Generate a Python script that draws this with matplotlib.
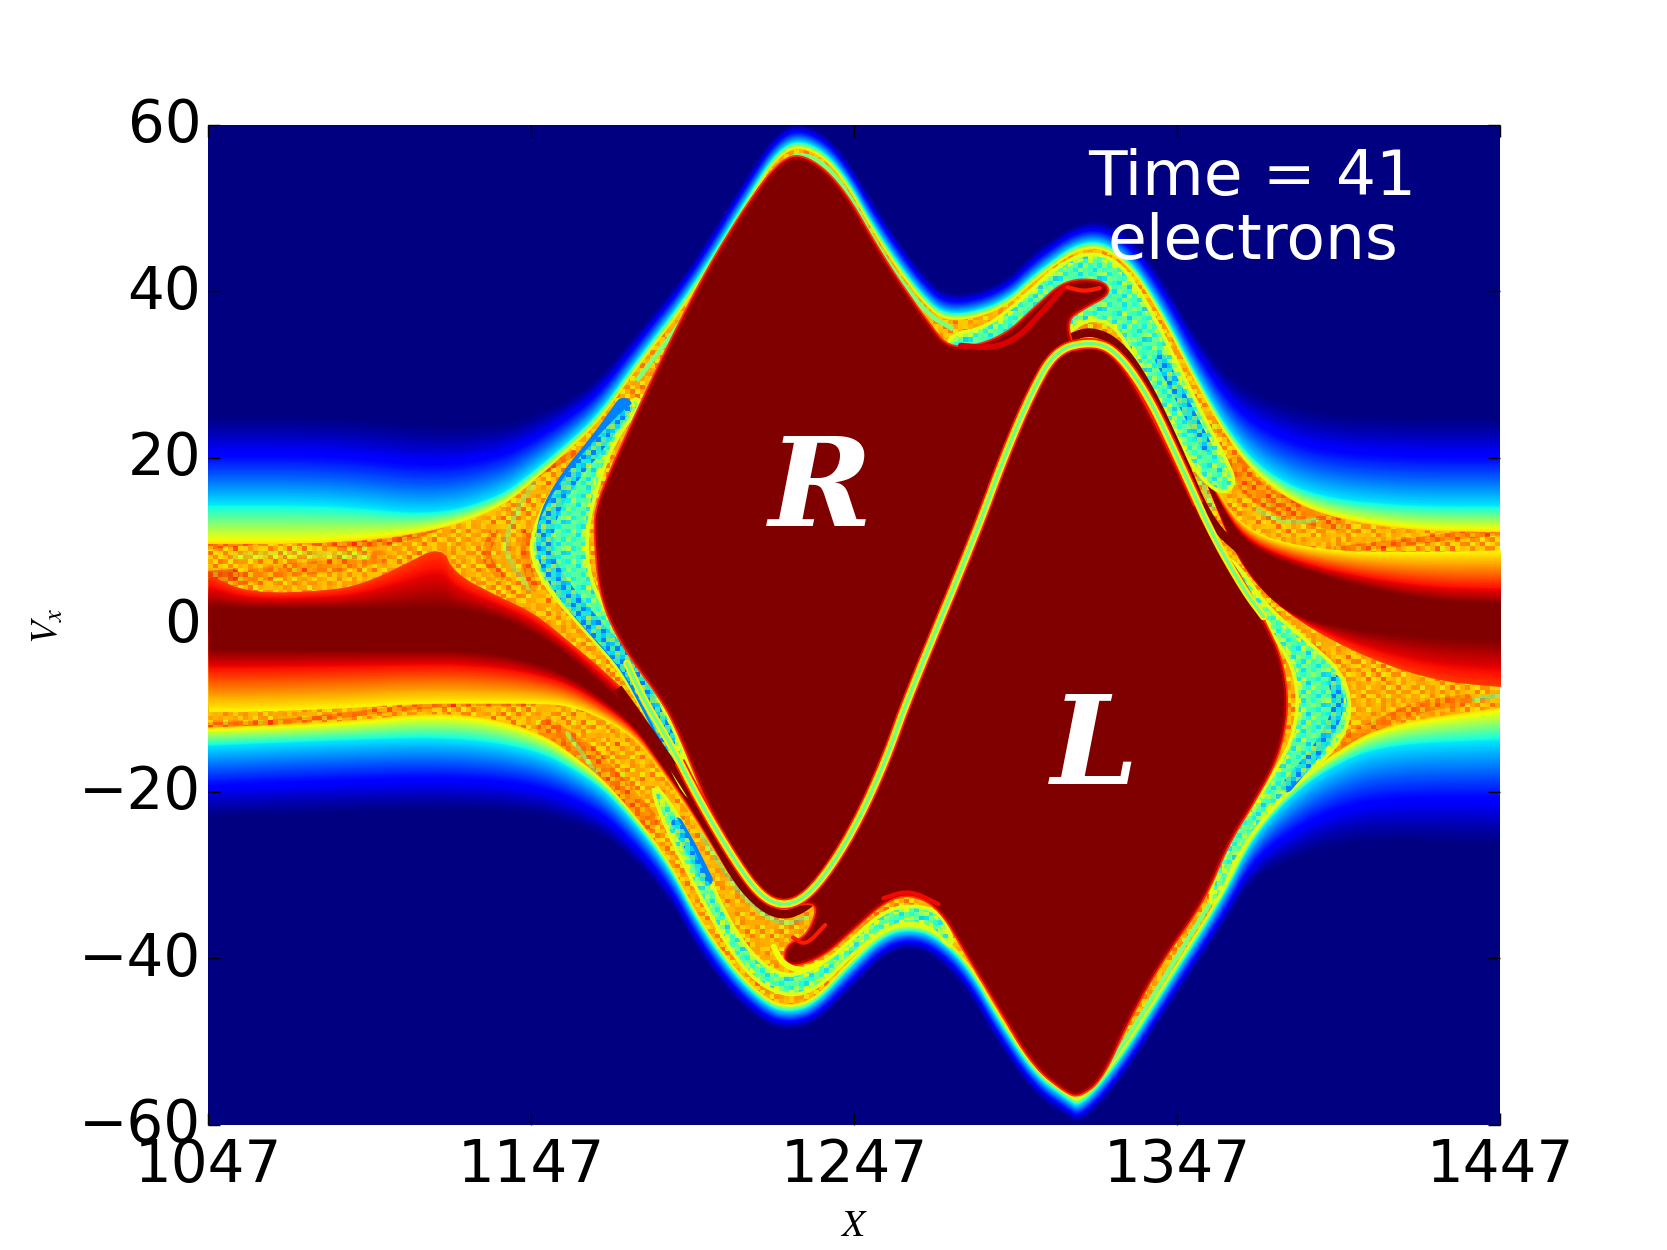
import numpy as np
import matplotlib
matplotlib.use("Agg")
import matplotlib.pyplot as plt
from matplotlib.patches import Polygon
from matplotlib.transforms import ScaledTranslation

# ---- outer edge of the trapped-particle structure, upper side ----
top_x = [1047, 1086, 1117, 1137, 1148, 1158, 1168, 1180, 1196, 1213, 1223, 1231, 1242, 1255, 1269, 1277,
         1293, 1304, 1319, 1331, 1342, 1353, 1364, 1375, 1391, 1418, 1447]
top_edge = [14.6, 14.6, 13.2, 15.4, 18.6, 21.8, 25.4, 32, 40, 50.8, 57, 58.4, 55.5, 46.5, 39, 37,
            38.6, 42.6, 46.6, 44.6, 38.2, 29.8, 22.6, 18.2, 15.4, 14.4, 14.4]
top_fade = [11, 11, 11, 9, 7, 5.5, 4.5, 3.5, 3, 3, 2.5, 2.2, 2.5, 3, 2.8, 2.5,
            2.5, 3, 2.5, 3, 4, 5, 7, 9.5, 10.5, 11, 11]
top_yellow = [4.8, 4.8, 2, 1.5, 1.2, 1, 1, 1, 1, .9, .8, .8, .8, .9, .9, .8,
              .8, .8, .8, .8, 1, 1, 1.2, 1.5, 2.2, 3, 3.2]

# ---- outer edge, lower side ----
bot_x = [1047, 1086, 1122, 1148, 1163, 1173, 1189, 1199, 1210, 1220, 1227, 1235, 1246, 1256, 1264, 1272,
         1282, 1292, 1303, 1313, 1317, 1329, 1345, 1361, 1370, 1382, 1395, 1411, 1447]
bot_edge = [-14.6, -14, -13.6, -15, -18, -21, -28.6, -36.2, -42.2, -45.8, -46.6, -45.6, -41, -37.4, -36.6, -37.4,
            -41, -47.8, -54.2, -57, -58, -52.6, -42.7, -33, -25.8, -20.6, -17, -14.5, -14]
bot_fade = [9, 9, 9, 8, 6.5, 5.5, 4, 3.5, 3, 2.5, 2.2, 2.5, 3, 2.5, 2.2, 2.5,
            3, 3, 2.5, 2.2, 2.2, 2.8, 3, 3.5, 5, 8, 10, 12, 13]
bot_yellow = [2.2, 2.2, 3.2, 2.5, 1.5, 1, .9, .9, .9, .8, .8, .8, .9, .9, .8, .8,
              .9, .9, .8, .8, .8, .9, 1, 1, 1, 1, 1.5, 2.5, 4]

# ---- untrapped core, left of the vortices ----
lcore_x = [1047, 1060, 1086, 1096, 1106, 1119, 1123, 1137, 1148, 1158, 1168, 1179, 1187, 1196, 1208]
lcore_top = [6, 3.8, 4.2, 5.2, 7, 9.6, 6.2, 3.4, 1.4, -1.8, -5, -9, -15, -20.6, -29]
lcore_dark_top = [2.2, 2, 2, 2, 2, 2, 2, 1, -1, -3.5, -7, -10.5, -15.5, -20.8, -29]
lcore_dark_bot = [-3, -3, -3, -3, -3, -3, -3, -3.5, -4.5, -6, -8.5, -12, -16.5, -21.5, -29.5]
lcore_bot = [-10.4, -10.4, -10, -9.8, -9.5, -9.4, -9.4, -9.4, -9.4, -9.6, -11, -13.5, -17.5, -22.5, -30]

# ---- untrapped core, right of the vortices ----
rcore_x = [1352, 1360, 1367.5, 1380, 1400, 1425, 1447]
rcore_top = [21, 15.5, 11.8, 9.8, 8.8, 8.8, 9]
rcore_dark_top = [21, 14.5, 10, 7.5, 5, 3, 2.6]
rcore_dark_bot = [21, 13.5, 7, 1.5, -0.5, -1.5, -1.8]
rcore_bot = [21, 13, 6.5, 1.6, -3, -6.6, -7.4]

# ---- saturated region covering both vortices ----
lobe_x = [1231, 1242.5, 1255.7, 1268.9, 1276.7, 1293, 1303.9, 1312.6, 1323.4, 1326, 1318, 1312, 1314.7, 1320,
          1326.7, 1336.5, 1348.5, 1358, 1366, 1374, 1379, 1381, 1378, 1370, 1362.3, 1355, 1341.3, 1331.4, 1323.2,
          1316.6, 1312.9, 1302.6, 1292.2, 1282, 1273.7, 1264.4, 1256.1, 1245.8, 1236.5, 1226, 1226, 1233, 1237,
          1225.2, 1218, 1209.7, 1201.4, 1193.2, 1188, 1175, 1168.5, 1167, 1167.5, 1171, 1177.7, 1187.6, 1200.8,
          1213.9, 1223.8]
lobe_v = [56.4, 52.8, 43.8, 36.4, 32.6, 34.2, 38.2, 41.2, 41.2, 39.8, 38.2, 36.6, 32.6, 33.4,
          32.6, 26.6, 17, 10, 6, 0, -4.2, -9.8, -15.8, -21.4, -26.2, -33, -40.5, -47.5, -54.5,
          -56.4, -56, -52.8, -46, -39.4, -33.8, -32, -33, -36.6, -39.8, -41, -38.5, -37.5, -33,
          -33.6, -31.8, -27.4, -21, -13, -9, -2.2, 3.6, 11.2, 14, 17.6, 23.4, 31.7, 41.9, 50.2, 55.4]

# ---- filament separating the two vortices ----
sep_x = [1176.6, 1181.8, 1190, 1198.3, 1209.7, 1218, 1225.2, 1232.4, 1240.6, 1248.9, 1257.2, 1263.3, 1284.3, 1293,
         1301.7, 1309.3, 1320, 1327.8, 1337.6, 1347.4, 1357, 1367.5, 1373.7]
sep_v = [-4.6, -9, -14.2, -20.6, -28.2, -32.6, -33.8, -32.6, -28.6, -23, -15.8, -9, 10.6, 19.8,
         27.8, 33, 34, 33, 27.8, 19.8, 11.4, 4.2, 1]

# ---- dark filaments running alongside the vortex tips ----
dark_up_x = [1312.6, 1320, 1329, 1337.6, 1347.4, 1357, 1367.5]
dark_up_v = [34.2, 35.4, 33.8, 29, 21, 12.2, 8.6]
dark_lo_x = [1174.6, 1189, 1199.4, 1209.7, 1218, 1225.2, 1232.4, 1235.5]
dark_lo_v = [-8, -15.8, -22.2, -30.2, -33.8, -35, -33.8, -32.2]

# ---- cyan bands wrapped around the vortices ----
band_ur_x = [1276.7, 1287.6, 1298.4, 1309.3, 1319.1, 1328.9, 1337.6, 1346.3, 1355, 1361.5, 1364.7, 1360.4, 1352.8,
             1344.1, 1334.3, 1327.8, 1320.2, 1313.7, 1306, 1276.7]
band_ur_v = [34.6, 35.4, 38.6, 42.6, 44.6, 43.4, 38.2, 31.4, 24.6, 19.8, 17, 15.8, 18.6,
             25, 32.2, 36.2, 37, 35.6, 32.6, 32.6]
band_ll_x = [1189, 1199.4, 1209.7, 1218, 1227.2, 1235.5, 1245.8, 1256.1, 1264.4, 1271.6, 1277.8, 1273.7, 1264.4,
             1256.1, 1245.8, 1238.6, 1227.2, 1218, 1209.7, 1202.5, 1194.2, 1183.9]
band_ll_v = [-24.2, -32.2, -39.4, -43, -44.4, -43.4, -39.4, -36.2, -35.4, -36.2, -39, -34.6, -33.8,
             -34.6, -38.2, -40.6, -42.6, -41, -37, -31.4, -24.2, -18.6]
band_l_x = [1178.7, 1166.3, 1153.9, 1147.7, 1147.7, 1152.9, 1163.2, 1173.5, 1180.7, 1186.9, 1195.2,
            1199.3, 1196.2, 1189, 1181.8, 1172.4, 1165.2, 1163.2, 1165.2, 1171.4, 1180.7]
band_l_v = [27, 22.2, 16.2, 11, 7.8, 4.2, -0.2, -4.6, -9, -13.8, -20.6,
            -20.6, -17.8, -11, -5.4, -0.2, 4.6, 9.4, 14.6, 21.8, 26.6]
band_r_x = [1365.4, 1374.7, 1387.1, 1397.4, 1400.5, 1397.4, 1388.1, 1379.9, 1372.7, 1365.4, 1359.2,
            1357.2, 1361.3, 1367.5, 1373.7, 1379.9, 1383, 1385, 1384, 1379.9, 1371.6, 1362.3]
band_r_v = [7, 1.8, -2.2, -5.8, -9.8, -13.8, -17.4, -20.2, -23.4, -27.4, -33,
            -33, -27.4, -23.4, -20.2, -16.2, -13.8, -9.8, -5.8, -2.6, 1.8, 7.8]

# ---- deeper blue streaks inside the bands ----
blue_l_x = [1175.6, 1168.3, 1158, 1151.8, 1150.8, 1154, 1161, 1168.3, 1176.6, 1182.8, 1189]
blue_l_v = [26.2, 22.2, 17.4, 13, 9, 5.8, 2.2, -1, -4.6, -9, -13.8]
blue_r_x = [1380.9, 1392.3, 1397.4, 1395.4]
blue_r_v = [-19.4, -14.2, -9.8, -6.6]
blue_ur_x = [1341.9, 1347.4, 1352.8, 1356]
blue_ur_v = [31.8, 27.8, 23.8, 21.4]
blue_ll_x = [1192.1, 1196.3, 1201.4]
blue_ll_v = [-23.8, -26.6, -30.6]

# ---- thin green filament just inside the outer edge, along the steep flanks ----
rim_top_x = [1180, 1196, 1213, 1223, 1231, 1242, 1255, 1269, 1277]
rim_top_v = [29.5, 37.6, 48.6, 55, 56.9, 54, 44.6, 37.4, 35.6]
rim_bot_x = [1282, 1292, 1303, 1313, 1317, 1329, 1345, 1357]
rim_bot_v = [-39.4, -46, -52.4, -55.8, -56.8, -51.2, -41, -33.5]

# ---- fine structure in the mixing layers: x, v, colour level, width ----
streaks = [
    ([1047, 1060, 1073.4, 1087.8, 1102.3, 1116.7, 1132.2, 1147.7, 1160],
     [9.4, 10, 10.2, 9.6, 9.8, 11.4, 14.2, 17.8, 20.6], 0.86, 2.2),
    ([1054.8, 1070.3, 1085.8, 1100.2], [5.4, 6.6, 7, 8.2], 0.8, 4.5),
    ([1054.8, 1075.5, 1096.1], [8.2, 8.6, 8.2], 0.58, 2.5),
    ([1047, 1054.8], [5.8, 6], 0.92, 4),
    ([1147.7, 1142.5, 1138.4, 1140.5, 1146.7], [17, 13.8, 9.8, 7.4, 4.2], 0.5, 2),
    ([1135.3, 1132.2, 1137.4], [11, 8.2, 5.8], 0.84, 3),
    ([1145.6, 1144.6, 1147.7], [11, 8.2, 4.6], 0.84, 3),
    ([1047, 1065.1, 1085.8, 1106.4, 1127, 1147.7], [-12, -11.8, -11, -10, -9.4, -9.4], 0.84, 1.8),
    ([1152, 1163, 1175, 1183], [-12.5, -15, -20, -23.5], 0.82, 7),
    ([1158, 1164, 1172], [-13, -16, -21], 0.45, 1.5),
    ([1365, 1372, 1385, 1396], [19, 15.5, 13.5, 12.5], 0.82, 7),
    ([1371.6, 1379.9, 1390.2], [13.8, 12.2, 12.6], 0.45, 1.5),
    ([1396.4, 1420, 1426.3, 1447], [9, 10, 10.4, 11.2], 0.84, 2.5),
    ([1438.7, 1447], [-9, -8.4], 0.38, 1.5),
    ([1390.2, 1405.7, 1421.2, 1436.6], [-15.8, -12.6, -9.8, -9], 0.82, 4),
    ([1199.4, 1211.7, 1224.1, 1232.4], [-25, -32.6, -36.2, -35], 0.42, 1.5),
    ([1313, 1320, 1329, 1338, 1348, 1358], [36, 37, 35.5, 31, 23, 14], 0.42, 1.5),
]

# ---- swirl and rough edges drawn over the saturated region ----
over_streaks = [
    ([1280, 1290, 1298, 1305, 1312], [33.5, 33.2, 34.5, 37.5, 40.5], 0.92, 2),
    ([1313, 1318, 1323], [40.5, 40, 40.4], 0.88, 1.5),
    ([1222, 1224.6, 1230.3, 1236.5], [-38.6, -40.6, -41.6, -40.6], 0.64, 2),
    ([1228, 1232, 1238], [-37.5, -38.5, -36], 0.88, 1.4),
    ([1256, 1264, 1273], [-32.8, -31.8, -33.5], 0.9, 1.5),
]

# ---- colour levels of the small-scale mottling; blank cells let lower layers show ----
mix_tile_a = [
    [.72, .62, .78, .68, .85, .64, .74, .80, .66, .76, .70],
    [.80, .70, .64, .82, .72, .76, .62, .70, .86, .68, .78],
    [.66, .84, .74, .60, .78, .68, .82, .64, .72, .80, .62],
    [.76, .62, .88, .70, .64, .84, .72, .78, .60, .70, .82],
    [.68, .78, .66, .76, .86, .62, .70, .84, .74, .64, .72],
    [.84, .70, .60, .82, .68, .74, .80, .62, .78, .88, .66],
    [.62, .76, .80, .66, .72, .90, .64, .70, .82, .60, .74],
    [.78, .64, .72, .86, .60, .70, .76, .88, .66, .72, .84],
    [.70, .82, .68, .62, .76, .80, .60, .74, .70, .84, .64],
]
mix_tile_b = [
    [.70, .80, .66, .64, .76, .84, .60],
    [.86, .62, .74, .80, .70, .68, .78],
    [.66, .72, .82, .60, .72, .88, .70],
    [.76, .84, .62, .72, .80, .66, .64],
    [.74, .68, .78, .86, .64, .74, .82],
]
band_tile = [
    [.40, np.nan, .46, .36, .52, np.nan, .42, .34, .48],
    [.52, .38, np.nan, .44, .34, .56, .40, np.nan, .36],
    [np.nan, .46, .34, .54, np.nan, .38, .60, .44, .42],
    [.36, .56, .42, np.nan, .48, .32, np.nan, .50, .38],
    [.46, np.nan, .38, .34, .62, .44, .40, .36, np.nan],
    [.34, .50, np.nan, .42, .38, np.nan, .54, .46, .32],
    [.58, .36, .44, np.nan, .34, .48, .38, np.nan, .52],
]

x_ticks = [1047, 1147, 1247, 1347, 1447]
v_ticks = [-60, -40, -20, 0, 20, 40, 60]

plt.rcParams["mathtext.fontset"] = "stix"
cmap = plt.get_cmap("jet")
fig, ax = plt.subplots(figsize=(1667 / 208.375, 6), dpi=208.375)
fig.subplots_adjust(left=0.125, right=0.9, bottom=0.1, top=0.9)
ax.set_facecolor(cmap(0.0))


def round_open(*arrays, passes=3):
    """Corner-cutting for an open curve; the two end points stay where they are."""
    out = [np.asarray(a, float) for a in arrays]
    for _ in range(passes):
        new = []
        for a in out:
            q = 0.75 * a[:-1] + 0.25 * a[1:]
            r = 0.25 * a[:-1] + 0.75 * a[1:]
            mid = np.empty(2 * len(q))
            mid[0::2] = q
            mid[1::2] = r
            new.append(np.r_[a[0], mid, a[-1]])
        out = new
    return out if len(out) > 1 else out[0]


def round_closed(x, v, passes=3):
    """Corner-cutting for a closed outline."""
    x = np.asarray(x, float)
    v = np.asarray(v, float)
    for _ in range(passes):
        res = []
        for a in (x, v):
            b = np.roll(a, -1)
            mid = np.empty(2 * len(a))
            mid[0::2] = 0.75 * a + 0.25 * b
            mid[1::2] = 0.25 * a + 0.75 * b
            res.append(mid)
        x, v = res
    return x, v


ux, ue, uf, uy = round_open(top_x, top_edge, top_fade, top_yellow)
lx, le, lf, ly = round_open(bot_x, bot_edge, bot_fade, bot_yellow)


def ring(up, low):
    """Outline of the region between the upper and lower envelopes."""
    return np.r_[ux, lx[::-1]], np.r_[up, low[::-1]]


# Gaussian-like tail: navy to cyan
for t in np.linspace(1, 0, 90):
    px, pv = ring(ue + t * uf, le - t * lf)
    ax.fill(px, pv, color=cmap(0.35 * (1 - t) ** 1.35), lw=0, zorder=1)
# cyan to yellow
for s in np.linspace(0, 1, 28):
    px, pv = ring(ue - s * uy, le + s * ly)
    ax.fill(px, pv, color=cmap(0.35 + 0.33 * s), lw=0, zorder=2)
# saturated mixing layer
px, pv = ring(ue - uy - 0.1, le + ly + 0.1)
mix_outline = np.c_[px, pv]
ax.fill(px, pv, color=cmap(0.71), lw=0, zorder=3)

for sx, sv, f, w in streaks:
    sx, sv = round_open(sx, sv)
    line, = ax.plot(sx, sv, color=cmap(f), lw=w, solid_capstyle="round", zorder=4)
    line.set_clip_path(Polygon(mix_outline, transform=ax.transData))

# mottled cells, one block per simulation cell
n_x, n_v = 260, 230
cell_extent = (1047, 1447, -60, 60)


def tiled(tile):
    tile = np.array(tile, float)
    return np.tile(tile, (n_v // tile.shape[0] + 1, n_x // tile.shape[1] + 1))[:n_v, :n_x]


mix_cells = 0.5 * (tiled(mix_tile_a) + tiled(mix_tile_b))
im = ax.imshow(mix_cells, cmap=cmap, vmin=0, vmax=1, extent=cell_extent, origin="lower", aspect="auto",
               interpolation="nearest", alpha=0.6, zorder=4.5)
im.set_clip_path(Polygon(mix_outline, transform=ax.transData))

# green filament just inside the edge
for rx, rv in ((rim_top_x, rim_top_v), (rim_bot_x, rim_bot_v)):
    rx, rv = round_open(rx, rv)
    ax.plot(rx, rv, color=cmap(0.5), lw=1.6, zorder=4.6)


def core(x, top, dark_top, dark_bot, bot, f_top, f_bot):
    """Core of free particles, shaded from both edges to the dark centre."""
    x, top, dark_top, dark_bot, bot = round_open(x, top, dark_top, dark_bot, bot, passes=2)
    for s in np.linspace(0, 1, 36):
        u = top + s * (dark_top - top)
        l = bot + s * (dark_bot - bot)
        m = (u + l) / 2
        ax.fill_between(x, m, u, color=cmap(f_top + (1 - f_top) * s), lw=0, zorder=5)
        ax.fill_between(x, l, m, color=cmap(f_bot + (1 - f_bot) * s), lw=0, zorder=5)


core(lcore_x, lcore_top, lcore_dark_top, lcore_dark_bot, lcore_bot, 0.85, 0.65)
core(rcore_x, rcore_top, rcore_dark_top, rcore_dark_bot, rcore_bot, 0.65, 0.85)

# bands wrapped around the vortices, with their darker streaks and mottling
for bx, bv in ((band_ur_x, band_ur_v), (band_ll_x, band_ll_v), (band_l_x, band_l_v), (band_r_x, band_r_v)):
    bx, bv = round_closed(bx, bv, passes=2)
    ax.fill(bx, bv, color=cmap(0.46), ec=cmap(0.62), lw=2.5, zorder=6)
    im = ax.imshow(tiled(band_tile), cmap=cmap, vmin=0, vmax=1, extent=cell_extent, origin="lower", aspect="auto",
                   interpolation="nearest", alpha=0.8, zorder=7.5)
    im.set_clip_path(Polygon(np.c_[bx, bv], transform=ax.transData))
for bx, bv, w in ((blue_l_x, blue_l_v, 6), (blue_r_x, blue_r_v, 4), (blue_ur_x, blue_ur_v, 4), (blue_ll_x, blue_ll_v, 4)):
    bx, bv = round_open(bx, bv)
    ax.plot(bx, bv, color=cmap(0.25), lw=w, solid_capstyle="round", zorder=7)

# dark filaments beside the vortex tips
for dx, dv in ((dark_up_x, dark_up_v), (dark_lo_x, dark_lo_v)):
    dx, dv = round_open(dx, dv)
    ax.plot(dx, dv, color=cmap(1.0), lw=3, zorder=8)

# saturated interior of both vortices, with a ragged red rim
lx_r, lv_r = round_closed(lobe_x, lobe_v)
ax.fill(lx_r, lv_r, color=cmap(0.86), ec=cmap(0.86), lw=2.0, zorder=8.5)
ax.fill(lx_r, lv_r, color=cmap(1.0), ec=cmap(0.95), lw=0.8, zorder=9)
for sx, sv, f, w in over_streaks:
    sx, sv = round_open(sx, sv)
    ax.plot(sx, sv, color=cmap(f), lw=w, solid_capstyle="round", zorder=9.5)

# filament between them; only the stretch between the lobes has the red border
sx_r, sv_r = round_open(sep_x, sep_v)
ends = len(sx_r) // 8
ax.plot(sx_r[ends:-ends], sv_r[ends:-ends], color=cmap(0.88), lw=3.8, zorder=10)
ax.plot(sx_r, sv_r, color=cmap(0.66), lw=2.6, solid_capstyle="round", zorder=10)
ax.plot(sx_r, sv_r, color=cmap(0.48), lw=1.1, solid_capstyle="round", zorder=10)

label_style = dict(color="white", fontsize=43, family="DejaVu Serif", weight="bold", style="italic",
                   ha="center", va="center", zorder=12)
ax.text(1236.5, 16, "R", **label_style)
ax.text(1321.5, -15, "L", **label_style)
ax.text(1370.3, 57.2, "Time = 41\nelectrons", color="white", fontsize=21.8, ha="center", va="top",
        linespacing=1.07, zorder=12)

ax.set_xlim(1047, 1447)
ax.set_ylim(-60, 60)
ax.set_xticks(x_ticks)
ax.set_yticks(v_ticks)
ax.tick_params(direction="in", top=True, right=True, length=4, width=0.5, labelsize=20)
ax.tick_params(axis="x", pad=4)
ax.tick_params(axis="y", pad=2.5)
for spine in ax.spines.values():
    spine.set_visible(False)
for t in ax.xaxis.get_major_ticks() + ax.yaxis.get_major_ticks():
    t.tick1line.set_zorder(20)
    t.tick2line.set_zorder(20)
# the value labels sit slightly above their ticks
lift = ScaledTranslation(0, 5.5 / 208.375, fig.dpi_scale_trans)
for lab in ax.get_yticklabels():
    lab.set_transform(lab.get_transform() + lift)
ax.set_xlabel(r"$X$", fontsize=13, labelpad=5)
ax.set_ylabel(r"$V_x$", fontsize=13, labelpad=4.5)

fig.savefig("out.png", dpi=208.375)
